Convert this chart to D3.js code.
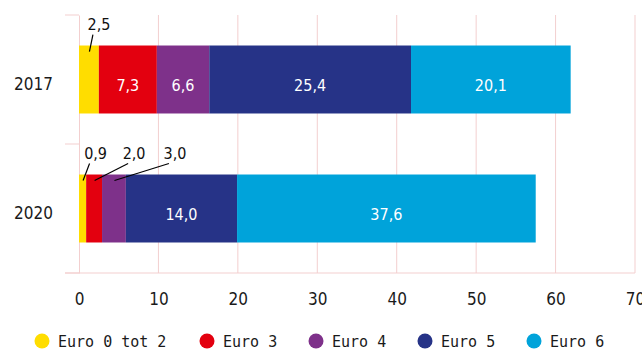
<!DOCTYPE html>
<html>
<head>
<meta charset="utf-8">
<script src="https://cdn.jsdelivr.net/npm/d3@7"></script>
<style>
  html, body { margin: 0; padding: 0; background: #fff; }
  svg { display: block; }
</style>
</head>
<body>
<svg id="chart" width="642" height="349"></svg>
<script>
// Share of vehicles per Euro emission class
const years = ["2017", "2020"];
const classes = ["Euro 0 tot 2", "Euro 3", "Euro 4", "Euro 5", "Euro 6"];
const colors = ["#FFDD00", "#E3000F", "#7E318A", "#263387", "#00A3DA"];
const values2017 = [2.5, 7.3, 6.6, 25.4, 20.1];
const values2020 = [0.9, 2.0, 3.0, 14.0, 37.6];
const xTicks = [0, 10, 20, 30, 40, 50, 60, 70];
// segments whose label sits above the bar with a leader line
const calloutDx = { "2017": [10, null, null, null, null], "2020": [13, 40, 61, null, null] };

const rows = [values2017, values2020];
const fmt = v => v.toFixed(1).replace(".", ",");
const svg = d3.select("#chart");

const x = d3.scaleLinear().domain([0, 70]).range([79, 635]);
const y = d3.scaleBand().domain(years).range([15, 273]).padding(0);
const barH = y.bandwidth() * 0.527;
const gridColor = "#F3CFCF";

// vertical gridlines
svg.append("g").selectAll("line").data(xTicks.slice(1)).join("line")
  .attr("x1", d => x(d)).attr("x2", d => x(d))
  .attr("y1", y.range()[0]).attr("y2", y.range()[1])
  .attr("stroke", gridColor).attr("stroke-width", 1);

// category axis
const yAxis = svg.append("g").attr("transform", `translate(${x(0)},0)`)
  .call(d3.axisLeft(y).tickSize(0).tickPadding(26));
yAxis.select(".domain").attr("stroke", gridColor);
yAxis.selectAll("text")
  .attr("font-family", "DejaVu Sans Condensed").attr("font-size", 17)
  .attr("fill", "#1a1a1a").attr("dy", "0.6em");
// band separator ticks
const bounds = [y.range()[0], y(years[1]), y.range()[1]];
svg.append("g").selectAll("line").data(bounds).join("line")
  .attr("x1", x(0) - 14).attr("x2", x(0))
  .attr("y1", d => d).attr("y2", d => d)
  .attr("stroke", gridColor);
// baseline
svg.append("line").attr("x1", x(0) - 14).attr("x2", x(70))
  .attr("y1", y.range()[1]).attr("y2", y.range()[1]).attr("stroke", gridColor);

// value axis labels
const xAxis = svg.append("g").attr("transform", `translate(0,${y.range()[1]})`)
  .call(d3.axisBottom(x).tickValues(xTicks).tickSize(0).tickPadding(20).tickFormat(d3.format("d")));
xAxis.select(".domain").remove();
xAxis.selectAll("text")
  .attr("font-family", "DejaVu Sans Condensed").attr("font-size", 17).attr("fill", "#1a1a1a");

// stacked bars
years.forEach((yr, i) => {
  const vals = rows[i];
  const cy = y(yr) + y.bandwidth() / 2;
  const top = cy - barH / 2;
  let acc = 0;
  const segs = vals.map((v, k) => { const s = { k, v, x0: acc, x1: acc + v }; acc += v; return s; });
  const g = svg.append("g");
  g.selectAll("rect").data(segs).join("rect")
    .attr("x", d => x(d.x0)).attr("width", d => x(d.x1) - x(d.x0))
    .attr("y", top).attr("height", barH)
    .attr("fill", d => colors[d.k]);

  segs.forEach(s => {
    const dx = calloutDx[yr][s.k];
    const mid = x((s.x0 + s.x1) / 2);
    if (dx == null) {
      g.append("text").attr("x", mid).attr("y", cy + 11)
        .attr("text-anchor", "middle")
        .attr("font-family", "DejaVu Sans Condensed").attr("font-size", 16)
        .attr("fill", "#fff").text(fmt(s.v));
    } else {
      const lx = mid + dx;
      g.append("line")
        .attr("x1", mid + 0.5).attr("y1", top + 6)
        .attr("x2", lx - 6).attr("y2", top - 11)
        .attr("stroke", "#000").attr("stroke-width", 1.2);
      g.append("text").attr("x", lx).attr("y", top - 16)
        .attr("text-anchor", "middle")
        .attr("font-family", "DejaVu Sans Condensed").attr("font-size", 16)
        .attr("fill", "#111").text(fmt(s.v));
    }
  });
});

// legend
const legendX = [42, 207, 316, 425, 534];
const legend = svg.append("g").selectAll("g").data(classes).join("g")
  .attr("transform", (d, i) => `translate(${legendX[i]},341)`);
legend.append("circle").attr("r", 7.5).attr("fill", (d, i) => colors[i]);
legend.append("text").attr("x", 16).attr("y", 5.5)
  .attr("font-family", "DejaVu Sans Mono").attr("font-size", 15)
  .attr("fill", "#1a1a1a").text(d => d);
</script>
</body>
</html>
